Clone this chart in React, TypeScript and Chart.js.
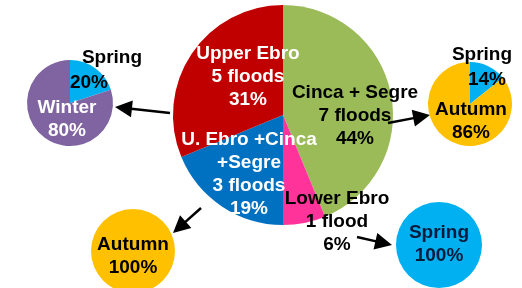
import React, { useEffect, useRef } from "react";
import { Chart, registerables } from "chart.js";

Chart.register(...registerables);

const W = 522;
const H = 288;

// ---- data ----
const regions = ["Upper Ebro", "Cinca + Segre", "U. Ebro +Cinca +Segre", "Lower Ebro"];
const regionOrder = [1, 3, 2, 0]; // drawing order clockwise from top
const regionFloods = [5, 7, 3, 1];
const regionPercents = [31, 44, 19, 6];
const regionColors = ["#C00000", "#9BBB59", "#0070C0", "#FF3399"];

const upperSeasons = ["Spring", "Winter"];
const upperFloods = [1, 4];
const upperPercents = [20, 80];

const cincaSeasons = ["Spring", "Autumn"];
const cincaFloods = [1, 6];
const cincaPercents = [14, 86];

const combinedSeasons = ["Autumn"];
const combinedFloods = [3];
const combinedPercents = [100];

const lowerSeasons = ["Spring"];
const lowerFloods = [1];
const lowerPercents = [100];

const seasonColors: Record<string, string> = {
  Spring: "#00B0F0",
  Winter: "#8064A2",
  Autumn: "#FFC000",
};

const FONT = 'bold 19px "Liberation Sans", Arial, sans-serif';
const LH = 23;

type TextBlock = { lines: string[]; x: number; y: number; color: string };
type Spec = {
  labels: string[];
  data: number[];
  colors: string[];
  cx: number;
  cy: number;
  r: number;
  texts: TextBlock[];
  arrows?: number[][];
};

const flw = (n: number) => `${n} ${n === 1 ? "flood" : "floods"}`;

const big: Spec = {
  labels: regionOrder.map((i) => regions[i]),
  data: regionOrder.map((i) => regionFloods[i]),
  colors: regionOrder.map((i) => regionColors[i]),
  cx: 283,
  cy: 115,
  r: 110,
  texts: [
    { lines: [regions[0], flw(regionFloods[0]), `${regionPercents[0]}%`], x: 248, y: 54, color: "#FFFFFF" },
    { lines: [regions[1], flw(regionFloods[1]), `${regionPercents[1]}%`], x: 355, y: 93, color: "#000000" },
    { lines: ["U. Ebro +Cinca", "+Segre", flw(regionFloods[2]), `${regionPercents[2]}%`], x: 249, y: 140, color: "#FFFFFF" },
    { lines: [regions[3], flw(regionFloods[3]), `${regionPercents[3]}%`], x: 337, y: 199, color: "#000000" },
  ],
  arrows: [
    [170, 113, 115, 107],
    [388, 123, 430, 115],
    [201, 208, 173, 233],
    [357, 237, 392, 245],
  ],
};

const smalls: Spec[] = [
  {
    labels: upperSeasons,
    data: upperFloods,
    colors: upperSeasons.map((s) => seasonColors[s]),
    cx: 70,
    cy: 103,
    r: 43,
    texts: [
      { lines: [upperSeasons[0]], x: 112, y: 58, color: "#000000" },
      { lines: [`${upperPercents[0]}%`], x: 89, y: 83, color: "#000000" },
      { lines: [upperSeasons[1], `${upperPercents[1]}%`], x: 67, y: 108, color: "#FFFFFF" },
    ],
  },
  {
    labels: cincaSeasons,
    data: cincaFloods,
    colors: cincaSeasons.map((s) => seasonColors[s]),
    cx: 470,
    cy: 104,
    r: 42,
    texts: [
      { lines: [cincaSeasons[0]], x: 482, y: 55, color: "#000000" },
      { lines: [`${cincaPercents[0]}%`], x: 487, y: 80, color: "#000000" },
      { lines: [cincaSeasons[1], `${cincaPercents[1]}%`], x: 471, y: 110, color: "#000000" },
    ],
  },
  {
    labels: combinedSeasons,
    data: combinedFloods,
    colors: combinedSeasons.map((s) => seasonColors[s]),
    cx: 133,
    cy: 251,
    r: 42,
    texts: [{ lines: [combinedSeasons[0], `${combinedPercents[0]}%`], x: 133, y: 245, color: "#000000" }],
  },
  {
    labels: lowerSeasons,
    data: lowerFloods,
    colors: lowerSeasons.map((s) => seasonColors[s]),
    cx: 439,
    cy: 245,
    r: 43,
    texts: [{ lines: [lowerSeasons[0], `${lowerPercents[0]}%`], x: 439, y: 233, color: "#0A1A3A" }],
  },
];

function drawArrow(ctx: CanvasRenderingContext2D, a: number[]) {
  const [x1, y1, x2, y2] = a;
  const ang = Math.atan2(y2 - y1, x2 - x1);
  const hl = 17;
  const hw = 8.5;
  const bx = x2 - hl * Math.cos(ang);
  const by = y2 - hl * Math.sin(ang);
  ctx.strokeStyle = "#000";
  ctx.lineWidth = 2.5;
  ctx.beginPath();
  ctx.moveTo(x1, y1);
  ctx.lineTo(bx + 3 * Math.cos(ang), by + 3 * Math.sin(ang));
  ctx.stroke();
  ctx.fillStyle = "#000";
  ctx.beginPath();
  ctx.moveTo(x2, y2);
  ctx.lineTo(bx + hw * Math.sin(ang), by - hw * Math.cos(ang));
  ctx.lineTo(bx - hw * Math.sin(ang), by + hw * Math.cos(ang));
  ctx.closePath();
  ctx.fill();
}

function makeChart(canvas: HTMLCanvasElement, spec: Spec) {
  const a = 10;
  return new Chart(canvas, {
    type: "pie",
    data: {
      labels: spec.labels,
      datasets: [
        {
          data: spec.data,
          backgroundColor: spec.colors,
          borderWidth: 0,
          hoverBorderWidth: 0,
          hoverOffset: 0,
          radius: spec.r,
        } as any,
      ],
    },
    options: {
      responsive: false,
      animation: false,
      events: [],
      layout: {
        padding: {
          left: spec.cx - a,
          right: W - spec.cx - a,
          top: spec.cy - a,
          bottom: H - spec.cy - a,
        },
      },
      plugins: {
        legend: { display: false },
        tooltip: { enabled: false },
      },
    },
    plugins: [
      {
        id: "labels",
        afterDraw(chart: Chart) {
          const ctx = chart.ctx;
          ctx.save();
          ctx.font = FONT;
          ctx.textAlign = "center";
          ctx.textBaseline = "middle";
          for (const t of spec.texts) {
            ctx.fillStyle = t.color;
            t.lines.forEach((l, i) => ctx.fillText(l, t.x, t.y + i * LH));
          }
          if (spec.arrows) spec.arrows.forEach((ar) => drawArrow(ctx, ar));
          ctx.restore();
        },
      },
    ],
  });
}

export default function App() {
  const refs = useRef<(HTMLCanvasElement | null)[]>([]);
  useEffect(() => {
    const specs = [big, ...smalls];
    const charts = specs.map((s, i) => makeChart(refs.current[i]!, s));
    return () => charts.forEach((c) => c.destroy());
  }, []);
  const specs = [big, ...smalls];
  return (
    <div style={{ position: "fixed", left: 0, top: 0, width: W, height: H, background: "#fff", overflow: "hidden" }}>
      {specs.map((_, i) => (
        <canvas
          key={i}
          ref={(el) => {
            refs.current[i] = el;
          }}
          width={W}
          height={H}
          style={{ position: "absolute", left: 0, top: 0, width: W, height: H }}
        />
      ))}
    </div>
  );
}
